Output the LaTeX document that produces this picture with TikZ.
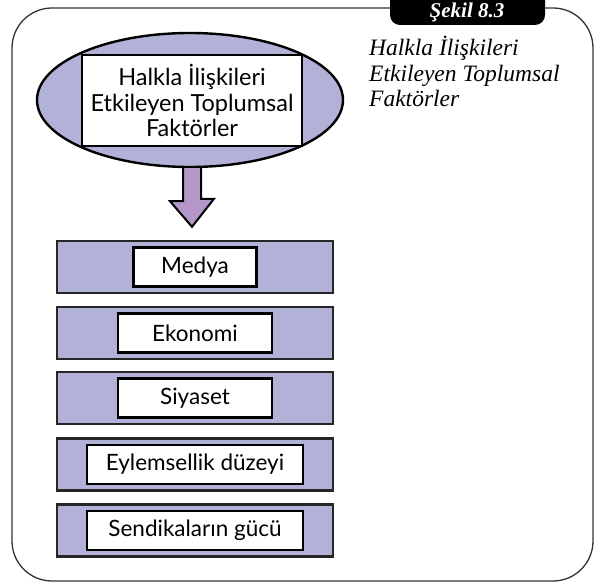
\documentclass[tikz,border=0pt]{standalone}
\usepackage{fontspec}
\setmainfont{Liberation Serif}
\newfontfamily\boxfont{Lato}
\usetikzlibrary{shapes.geometric,calc}
\definecolor{lavender}{RGB}{178,178,216}
\definecolor{arrowfill}{RGB}{180,150,200}
\begin{document}
\begin{tikzpicture}[x=1pt, y=-1pt,
    bar/.style={draw=black!85, line width=2.4pt, fill=lavender, minimum width=276pt, minimum height=52pt},
    label/.style={draw, line width=2.4pt, fill=white, minimum height=39pt, inner sep=0pt, font=\boxfont\fontsize{22.5}{26}\selectfont}]
        \useasboundingbox (0,0) rectangle (602,585);
        % Frame and tab
        \draw[line width=1.3pt, black!80, rounded corners=40pt] (12,8) rectangle (593,581);
        \fill[black, rounded corners=10pt] (390,-12) rectangle (545,25);
        \node[text=white, font=\bfseries\itshape\fontsize{21}{24}\selectfont, inner sep=0pt] (tab) at (467,12) {Şekil 8.3};
        \node[anchor=north west, align=left, font=\itshape\fontsize{23.5}{25.5}\selectfont, inner sep=0pt] (caption) at (369,36) {Halkla İlişkileri\\Etkileyen Toplumsal\\Faktörler};

        % Nodes
        \node[ellipse, draw, line width=2.4pt, fill=lavender, minimum width=306pt, minimum height=134pt] (oval) at (190,100) {};
        \node[label, minimum width=220pt, minimum height=91pt, align=center, font=\boxfont\fontsize{23.5}{25.5}\selectfont] (title) at (192,100.5) {Halkla İlişkileri\\Etkileyen Toplumsal\\Faktörler};

        \node[bar] (bar1) at (195,267) {};
        \node[bar] (bar2) at (195,333) {};
        \node[bar] (bar3) at (195,398) {};
        \node[bar] (bar4) at (195,464.5) {};
        \node[bar] (bar5) at (195,530.5) {};

        \node[label, minimum width=123pt] (medya) at (bar1) {Medya};
        \node[label, minimum width=154pt] (ekonomi) at (bar2) {Ekonomi};
        \node[label, minimum width=154pt] (siyaset) at (bar3) {Siyaset};
        \node[label, minimum width=216pt] (eylem) at (bar4) {Eylemsellik düzeyi};
        \node[label, minimum width=216pt] (sendika) at (bar5) {Sendikaların gücü};

        % Block arrow
        \coordinate (tip) at ($(bar1.north)+(-3,-13)$);
        \draw[line width=2pt, fill=arrowfill, line join=miter]
            ($(oval.south)+(-7,0)$) -- ++(0,33) -- ++(-13,0) -- (tip)
            -- ($(tip)+(22,-28)$) -- ++(-13,0) -- ($(oval.south)+(11,0)$);
\end{tikzpicture}
\end{document}
